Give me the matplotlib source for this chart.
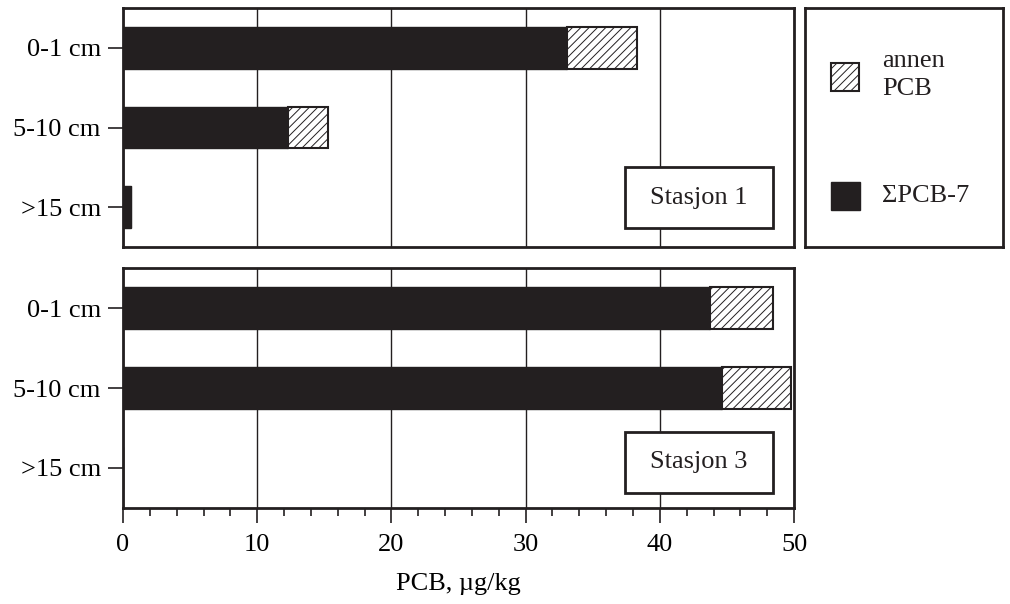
import matplotlib
matplotlib.use("Agg")
import matplotlib.pyplot as plt
from matplotlib.patches import Rectangle
import numpy as np

plt.rcParams['font.family'] = ['Liberation Serif', 'DejaVu Serif']
plt.rcParams['hatch.linewidth'] = 0.7

dyp = ['0-1 cm', '5-10 cm', '>15 cm']
stasjoner = ['Stasjon 1', 'Stasjon 3']
# sum PCB-7 og annen PCB, µg/kg
pcb7 = [[33.1, 12.3, 0.6], [43.7, 44.6, 0.0]]
annen = [[5.2, 3.0, 0.0], [4.7, 5.2, 0.0]]

mork = '#231f20'
fs = 19

fig = plt.figure(figsize=(10.1, 6.04), dpi=100)
ax1 = fig.add_axes([0.1218, 0.591, 0.6644, 0.3957])
ax2 = fig.add_axes([0.1218, 0.159, 0.6644, 0.397])
axl = fig.add_axes([0.797, 0.591, 0.196, 0.3957])

y = np.arange(len(dyp))
for i, ax in enumerate([ax1, ax2]):
    ax.barh(y, pcb7[i], height=0.52, color=mork, edgecolor=mork, linewidth=1, zorder=3)
    ax.barh(y, annen[i], left=pcb7[i], height=0.52, color='white', edgecolor=mork,
            hatch='////', linewidth=1.5, zorder=3)
    ax.set_xlim(0, 50)
    ax.set_ylim(2.5, -0.5)
    ax.set_yticks(y)
    ax.set_yticklabels(dyp, fontsize=fs)
    ax.set_xticks([0, 10, 20, 30, 40, 50])
    ax.xaxis.grid(True, color=mork, linewidth=1)
    ax.set_axisbelow(True)
    for s in ax.spines.values():
        s.set_linewidth(2)
        s.set_color(mork)
    ax.tick_params(axis='y', length=11, width=1.2, color=mork, pad=5)
    # stasjonsboks
    if i == 0:
        r = Rectangle((0.748, 0.079), 0.221, 0.256, transform=ax.transAxes,
                      facecolor='white', edgecolor=mork, linewidth=2, zorder=5)
        ty = 0.207
    else:
        r = Rectangle((0.748, 0.0625), 0.221, 0.2545, transform=ax.transAxes,
                      facecolor='white', edgecolor=mork, linewidth=2, zorder=5)
        ty = 0.19
    ax.add_patch(r)
    ax.text(0.8585, ty, stasjoner[i], transform=ax.transAxes, ha='center', va='center',
            fontsize=fs, color=mork, zorder=6)

ax1.tick_params(axis='x', which='both', length=0, labelbottom=False)
ax2.set_xticks(np.arange(0, 51, 2), minor=True)
ax2.tick_params(axis='x', which='major', length=11, width=1.2, color=mork,
                labelsize=fs, pad=8)
ax2.tick_params(axis='x', which='minor', length=6, width=1.2, color=mork)
ax2.set_xlabel('PCB, µg/kg', fontsize=fs, labelpad=12)

# tegnforklaring
axl.set_xlim(0, 1)
axl.set_ylim(0, 1)
axl.set_xticks([])
axl.set_yticks([])
for s in axl.spines.values():
    s.set_linewidth(2)
    s.set_color(mork)
axl.add_patch(Rectangle((0.131, 0.653), 0.141, 0.117, facecolor='white', edgecolor=mork,
                        hatch='////', linewidth=1.5, transform=axl.transAxes))
axl.add_patch(Rectangle((0.131, 0.155), 0.146, 0.117, facecolor=mork, edgecolor=mork,
                        linewidth=1, transform=axl.transAxes))
axl.text(0.39, 0.72, 'annen\nPCB', transform=axl.transAxes, ha='left', va='center',
         fontsize=fs, color=mork, linespacing=1.3)
axl.text(0.39, 0.213, 'ΣPCB-7', transform=axl.transAxes, ha='left', va='center',
         fontsize=fs, color=mork)

fig.savefig('out.png', dpi=100)
